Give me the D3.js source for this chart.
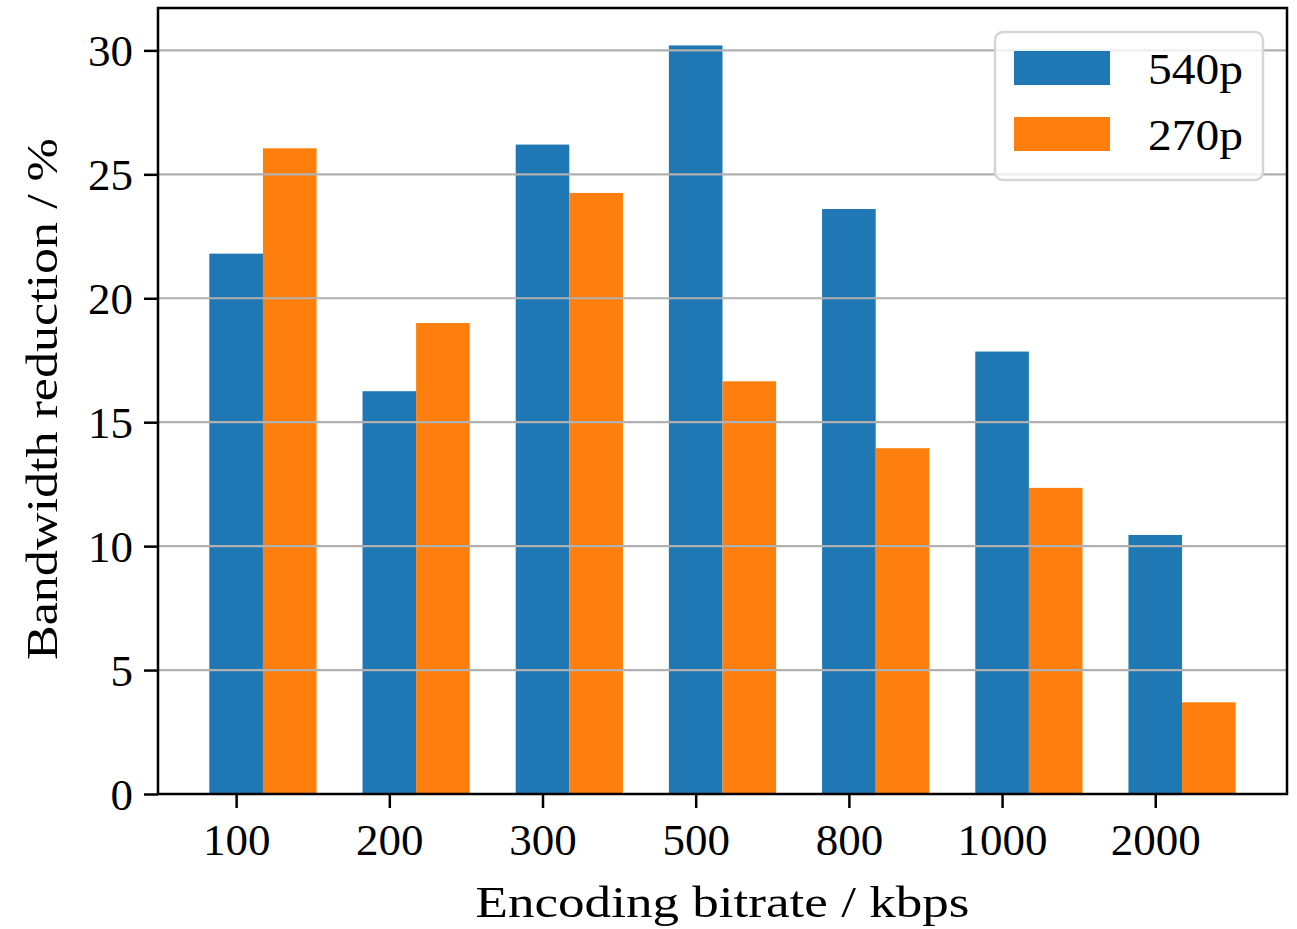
<!DOCTYPE html>
<html>
<head>
<meta charset="utf-8">
<script src="https://cdn.jsdelivr.net/npm/d3@7"></script>
<style>
  body { margin: 0; background: #fff; }
  text { font-family: "Liberation Serif", "DejaVu Serif", serif; fill: #000; }
</style>
</head>
<body>
<div id="chart"></div>
<script>
// bitrate categories and bandwidth reduction per resolution
const bitrates = ['100', '200', '300', '500', '800', '1000', '2000'];
const res540 = [21.8, 16.25, 26.2, 30.2, 23.6, 17.85, 10.45];
const res270 = [26.05, 19.0, 24.25, 16.65, 13.95, 12.35, 3.7];
const seriesNames = ['540p', '270p'];
const yTicks = [0, 5, 10, 15, 20, 25, 30];

const width = 1297, height = 929;
const margin = { left: 158, right: 10, top: 8, bottom: 135 };
const plotW = width - margin.left - margin.right;
const plotH = height - margin.top - margin.bottom;
const colors = ['#1f77b4', '#ff7f0e'];
const barW = 0.35;

const svg = d3.select('#chart').append('svg')
  .attr('width', width)
  .attr('height', height);

const g = svg.append('g')
  .attr('transform', `translate(${margin.left},${margin.top})`);

// linear x like matplotlib: bars at i (blue) and i + 0.35 (orange), 5% margins
const lo = -barW / 2, hi = bitrates.length - 1 + barW * 1.5;
const pad = (hi - lo) * 0.05;
const x = d3.scaleLinear().domain([lo - pad, hi + pad]).range([0, plotW]);
const yMax = d3.max(res540.concat(res270)) * 1.05;
const y = d3.scaleLinear().domain([0, yMax]).range([plotH, 0]);

// bars
[res540, res270].forEach((vals, s) => {
  g.selectAll('.bar' + s)
    .data(vals)
    .enter().append('rect')
    .attr('class', 'bar' + s)
    .attr('x', (d, i) => x(i - barW / 2 + s * barW))
    .attr('width', x(barW) - x(0))
    .attr('y', d => y(d))
    .attr('height', d => y(0) - y(d))
    .attr('fill', colors[s]);
});

// horizontal grid drawn over the bars
g.selectAll('.grid')
  .data(yTicks)
  .enter().append('line')
  .attr('x1', 0).attr('x2', plotW)
  .attr('y1', d => y(d)).attr('y2', d => y(d))
  .attr('stroke', '#b0b0b0')
  .attr('stroke-width', 2.2);

// axes
const xAxis = d3.axisBottom(x)
  .tickValues(d3.range(bitrates.length))
  .tickFormat(i => bitrates[i])
  .tickSize(14).tickPadding(15);
const yAxis = d3.axisLeft(y)
  .tickValues(yTicks)
  .tickSize(14).tickPadding(11);

const xa = g.append('g').attr('transform', `translate(0,${plotH})`).call(xAxis);
const ya = g.append('g').call(yAxis);
[xa, ya].forEach(a => {
  a.select('.domain').remove();
  a.selectAll('.tick line').attr('stroke', '#000').attr('stroke-width', 2.5);
  a.selectAll('.tick text').attr('font-size', 45).attr('fill', '#000')
    .style('font-family', '"Liberation Serif", serif');
});
ya.selectAll('.tick text').attr('dy', '0.34em');

// frame
g.append('rect')
  .attr('width', plotW).attr('height', plotH)
  .attr('fill', 'none').attr('stroke', '#000').attr('stroke-width', 2.5);

// axis labels (stretched to the width of the original Computer Modern text)
svg.append('text')
  .attr('x', margin.left + plotW / 2)
  .attr('y', 917)
  .attr('text-anchor', 'middle')
  .attr('font-size', 45)
  .attr('textLength', 494)
  .attr('lengthAdjust', 'spacingAndGlyphs')
  .text('Encoding bitrate / kbps');

svg.append('text')
  .attr('transform', `translate(57,${margin.top + plotH / 2 - 2}) rotate(-90)`)
  .attr('text-anchor', 'middle')
  .attr('font-size', 45)
  .attr('textLength', 522)
  .attr('lengthAdjust', 'spacingAndGlyphs')
  .text('Bandwidth reduction / %');

// legend
const lg = svg.append('g').attr('transform', 'translate(995,32)');
lg.append('rect')
  .attr('width', 268).attr('height', 148)
  .attr('rx', 8)
  .attr('fill', 'rgba(255,255,255,0.8)')
  .attr('stroke', '#d6d6d6').attr('stroke-width', 2.5);
seriesNames.forEach((name, i) => {
  lg.append('rect')
    .attr('x', 19).attr('y', 19 + i * 66)
    .attr('width', 96).attr('height', 34)
    .attr('fill', colors[i]);
  lg.append('text')
    .attr('x', 248).attr('y', 36 + i * 66)
    .attr('dy', '0.35em')
    .attr('text-anchor', 'end')
    .attr('font-size', 45)
    .attr('textLength', 95)
    .attr('lengthAdjust', 'spacingAndGlyphs')
    .text(name);
});
</script>
</body>
</html>
